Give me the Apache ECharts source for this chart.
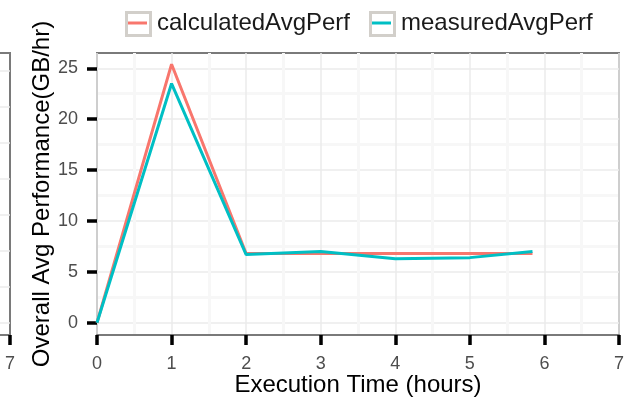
<!DOCTYPE html>
<html>
<head>
<meta charset="utf-8">
<script src="https://cdn.jsdelivr.net/npm/echarts@6/dist/echarts.min.js"></script>
<style>html,body{margin:0;padding:0;background:#fff}#c{width:635px;height:399px}</style>
</head>
<body>
<div id="c"></div>
<script>
// Data
const hours = [0, 1, 2, 3, 4, 5, 5.84];
const calculatedAvgPerf = [0, 25.4, 6.8, 6.8, 6.8, 6.8, 6.8];
const measuredAvgPerf = [0, 23.5, 6.7, 7.0, 6.3, 6.4, 7.0];
const yTickValues = [0, 5, 10, 15, 20, 25];
const yMinorValues = [2.5, 7.5, 12.5, 17.5, 22.5];
const seriesNames = ['calculatedAvgPerf', 'measuredAvgPerf'];
const leftPanelYLines = [0, 1, 2, 3, 4, 5, 6, 7];

const FONT = 'Liberation Sans, Arial, sans-serif';
const RED = '#F8766D', TEAL = '#00BFC4';
const chart = echarts.init(document.getElementById('c'), null, {renderer: 'canvas'});

const pair = (xs, ys) => xs.map((x, i) => [x, ys[i]]);

chart.setOption({
  animation: false,
  backgroundColor: '#fff',
  textStyle: {fontFamily: FONT},
  grid: [
    {left: 97, top: 53, width: 522, height: 282, show: true, borderColor: '#7a7a7a', borderWidth: 2, backgroundColor: 'transparent', containLabel: false, outerBoundsMode: 'none'},
    {left: -300, top: 53, width: 310, height: 282, show: true, borderColor: '#7a7a7a', borderWidth: 2, containLabel: false, outerBoundsMode: 'none'}
  ],
  xAxis: [
    {
      gridIndex: 0, type: 'value', min: 0, max: 7, interval: 1,
      name: 'Execution Time (hours)', nameLocation: 'middle', nameGap: 38, nameMoveOverlap: false,
      nameTextStyle: {fontSize: 24, color: '#000', fontFamily: FONT},
      axisLine: {show: true, onZero: false, lineStyle: {color: '#7a7a7a', width: 2}},
      axisTick: {show: true, length: 10, lineStyle: {color: '#000', width: 3.5}},
      axisLabel: {fontSize: 18, color: '#4d4d4d', margin: 20, fontFamily: FONT},
      splitLine: {show: true, lineStyle: {color: '#ebebeb', width: 1.5}},
      minorTick: {show: false, splitNumber: 2},
      minorSplitLine: {show: true, lineStyle: {color: '#f7f7f7', width: 3}}
    },
    {
      gridIndex: 1, type: 'value', min: 0, max: 7, interval: 7,
      axisLine: {show: true, onZero: false, lineStyle: {color: '#7a7a7a', width: 2}},
      axisTick: {show: true, length: 10, lineStyle: {color: '#000', width: 3.5}},
      axisLabel: {fontSize: 18, color: '#4d4d4d', margin: 20, fontFamily: FONT, showMinLabel: false},
      splitLine: {show: false}
    }
  ],
  yAxis: [
    {
      gridIndex: 0, type: 'value', min: -1.2, max: 26.5,
      name: 'Overall Avg Performance(GB/hr)', nameLocation: 'middle', nameGap: 43, nameRotate: 90, nameMoveOverlap: false,
      nameTextStyle: {fontSize: 24, color: '#000', fontFamily: FONT},
      axisLine: {show: false},
      axisTick: {show: true, length: 10, customValues: yTickValues, lineStyle: {color: '#000', width: 3.5}},
      axisLabel: {fontSize: 18, color: '#4d4d4d', margin: 19, customValues: yTickValues, fontFamily: FONT},
      splitLine: {show: true, lineStyle: {color: '#ebebeb', width: 1.5}}
    },
    {
      gridIndex: 0, type: 'value', min: -1.2, max: 26.5,
      axisLine: {show: false},
      axisTick: {show: false, customValues: yMinorValues},
      axisLabel: {show: false, customValues: yMinorValues},
      splitLine: {show: true, lineStyle: {color: '#f7f7f7', width: 3}},
      z: -1
    },
    {
      gridIndex: 1, type: 'value', min: -0.33, max: 7.5,
      axisLine: {show: false},
      axisTick: {show: false, customValues: leftPanelYLines},
      axisLabel: {show: false, customValues: leftPanelYLines},
      splitLine: {show: true, lineStyle: {color: '#ebebeb', width: 1.5}}
    }
  ],
  legend: [
    {
      left: 125, top: 11, data: [seriesNames[0]], itemWidth: 19, itemHeight: 3,
      icon: 'rect', padding: [0, 0, 0, 3], itemGap: 0,
      textStyle: {fontSize: 24, color: '#1a1a1a', fontFamily: FONT, padding: [0, 0, 0, 5]}
    },
    {
      left: 369, top: 11, data: [seriesNames[1]], itemWidth: 19, itemHeight: 3,
      icon: 'rect', padding: [0, 0, 0, 3], itemGap: 0,
      textStyle: {fontSize: 24, color: '#1a1a1a', fontFamily: FONT, padding: [0, 0, 0, 5]}
    }
  ],
  graphic: [
    {type: 'rect', left: 125, top: 11, shape: {width: 24, height: 23}, style: {fill: '#fff', stroke: '#d2cfca', lineWidth: 3}, z: -10, silent: true},
    {type: 'rect', left: 369, top: 11, shape: {width: 24, height: 23}, style: {fill: '#fff', stroke: '#d2cfca', lineWidth: 3}, z: -10, silent: true}
  ],
  series: [
    {
      name: seriesNames[0], type: 'line', xAxisIndex: 0, yAxisIndex: 0,
      data: pair(hours, calculatedAvgPerf), showSymbol: false, symbol: 'none',
      lineStyle: {color: RED, width: 3}, itemStyle: {color: RED}, z: 3
    },
    {
      name: seriesNames[1], type: 'line', xAxisIndex: 0, yAxisIndex: 0,
      data: pair(hours, measuredAvgPerf), showSymbol: false, symbol: 'none',
      lineStyle: {color: TEAL, width: 3}, itemStyle: {color: TEAL}, z: 4
    }
  ]
});
</script>
</body>
</html>
